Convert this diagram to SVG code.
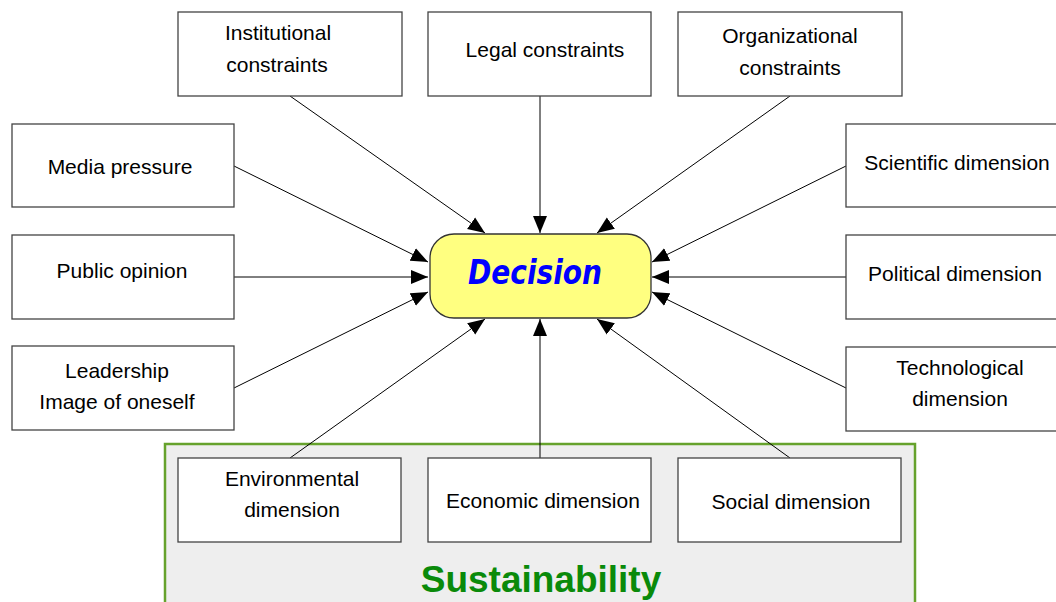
<svg xmlns="http://www.w3.org/2000/svg" width="1056" height="602" viewBox="0 0 1056 602">
<defs>
<marker id="arr" markerUnits="userSpaceOnUse" markerWidth="18" markerHeight="15" refX="17" refY="7.5" orient="auto">
<path d="M0,0.5 L17,7.5 L0,14.5 z" fill="#000"/>
</marker>
<style>
.box{fill:#fff;stroke:#444;stroke-width:1.3}
.t{font-family:"Liberation Sans",Arial,sans-serif;font-size:21px;fill:#000;text-anchor:middle}
.c{stroke:#000;stroke-width:1;fill:none;marker-end:url(#arr)}
</style>
</defs>
<rect width="1056" height="602" fill="#fff"/>
<g id="sustainability">
<rect x="165" y="444" width="750" height="170" fill="#eeeeee" stroke="#66a22c" stroke-width="2.5"/>
<text x="541" y="592" style="font-family:'Liberation Sans',Arial,sans-serif;font-size:37px;font-weight:bold;fill:#0a8a0a;text-anchor:middle">Sustainability</text>
</g>
<g id="connectors">
<line class="c" x1="290" y1="96" x2="485" y2="233"/>
<line class="c" x1="540" y1="96" x2="540" y2="233"/>
<line class="c" x1="790" y1="96" x2="597" y2="233"/>
<line class="c" x1="234" y1="166" x2="428" y2="262"/>
<line class="c" x1="234" y1="277" x2="428" y2="277"/>
<line class="c" x1="234" y1="388" x2="428" y2="292"/>
<line class="c" x1="290" y1="458" x2="485" y2="319"/>
<line class="c" x1="540" y1="458" x2="540" y2="319"/>
<line class="c" x1="790" y1="458" x2="597" y2="319"/>
<line class="c" x1="846" y1="166" x2="652" y2="262"/>
<line class="c" x1="846" y1="277" x2="652" y2="277"/>
<line class="c" x1="846" y1="388" x2="652" y2="292"/>
</g>
<g id="decision">
<rect x="430" y="234" width="221" height="84" rx="24" ry="24" fill="#ffff80" stroke="#333" stroke-width="1.3"/>
<text x="535" y="284" textLength="134" lengthAdjust="spacingAndGlyphs" style="font-family:'Comic Sans MS','DejaVu Sans',sans-serif;font-size:33px;font-weight:bold;font-style:italic;fill:#0000ff;text-anchor:middle">Decision</text>
</g>
<g id="institutional">
<rect class="box" x="178" y="12" width="224" height="84"/>
<text class="t" x="278" y="40">Institutional</text>
<text class="t" x="277" y="72">constraints</text>
</g>
<g id="legal">
<rect class="box" x="428" y="12" width="223" height="84"/>
<text class="t" x="545" y="57">Legal constraints</text>
</g>
<g id="organizational">
<rect class="box" x="678" y="12" width="224" height="84"/>
<text class="t" x="790" y="43">Organizational</text>
<text class="t" x="790" y="75">constraints</text>
</g>
<g id="media">
<rect class="box" x="12" y="124" width="222" height="83"/>
<text class="t" x="120" y="174">Media pressure</text>
</g>
<g id="public">
<rect class="box" x="12" y="235" width="222" height="84"/>
<text class="t" x="122" y="278">Public opinion</text>
</g>
<g id="leadership">
<rect class="box" x="12" y="346" width="222" height="84"/>
<text class="t" x="117" y="378">Leadership</text>
<text class="t" x="117" y="409">Image of oneself</text>
</g>
<g id="scientific">
<rect class="box" x="846" y="124" width="222" height="83"/>
<text class="t" x="957" y="170">Scientific dimension</text>
</g>
<g id="political">
<rect class="box" x="846" y="235" width="222" height="84"/>
<text class="t" x="955" y="281">Political dimension</text>
</g>
<g id="technological">
<rect class="box" x="846" y="347" width="222" height="84"/>
<text class="t" x="960" y="375">Technological</text>
<text class="t" x="960" y="406">dimension</text>
</g>
<g id="environmental">
<rect class="box" x="178" y="458" width="223" height="84"/>
<text class="t" x="292" y="486">Environmental</text>
<text class="t" x="292" y="517">dimension</text>
</g>
<g id="economic">
<rect class="box" x="428" y="458" width="223" height="84"/>
<text class="t" x="543" y="508">Economic dimension</text>
</g>
<g id="social">
<rect class="box" x="678" y="458" width="223" height="84"/>
<text class="t" x="791" y="509">Social dimension</text>
</g>
</svg>
